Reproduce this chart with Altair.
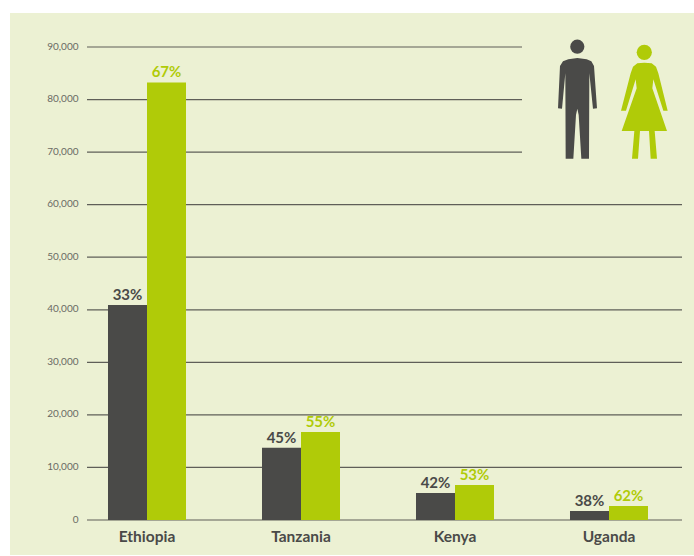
import altair as alt
import pandas as pd

# Population figures by country and sex
countries = ["Ethiopia", "Tanzania", "Kenya", "Uganda"]
men_values = [40900, 13750, 5130, 1710]
women_values = [83250, 16730, 6650, 2660]
men_pct = ["33%", "45%", "42%", "38%"]
women_pct = ["67%", "55%", "53%", "62%"]
tick_values = [0, 10000, 20000, 30000, 40000, 50000, 60000, 70000, 80000, 90000]
short_grid_from = 70000

DARK = "#4a4a48"
GREEN = "#b0cb08"
PANEL = "#ecf1d3"
LEFT, TOP = 87, 47
W, H = 595, 473

rows = []
for i, c in enumerate(countries):
    rows.append({"country": c, "sex": "men", "value": men_values[i], "pct": men_pct[i]})
    rows.append({"country": c, "sex": "women", "value": women_values[i], "pct": women_pct[i]})
df = pd.DataFrame(rows)

y_scale = alt.Scale(domain=[0, 90000], range=[H, 0], nice=False)
x_scale = alt.Scale(domain=countries, range=[-17, 599], paddingInner=0, paddingOuter=0)
offset_scale = alt.Scale(domain=["men", "women"], paddingInner=0, paddingOuter=0.974)
color_scale = alt.Scale(domain=["men", "women"], range=[DARK, GREEN])


def outline(points, cx, cy, half):
    """Turn an icon's outline into a point-mark path normalised to [-1, 1]."""
    coords = [f"{(x - cx) / half:.4f},{(y - cy) / half:.4f}" for x, y in points]
    return "M" + "L".join(coords) + "Z"


man_points = [(205, 118), (232, 114), (260, 118), (274, 124), (282, 138), (291, 265), (279, 266),
              (268, 160), (267, 416), (244, 416), (236, 285), (232, 266), (228, 285), (220, 416),
              (197, 416), (196, 160), (186, 266), (174, 265), (180, 138), (189, 124)]
woman_points = [(412, 130), (433, 128), (455, 130), (468, 140), (475, 160), (503, 272), (490, 272),
                (460, 178), (457, 205), (501, 333), (464, 333), (471, 416), (452, 416), (447, 333),
                (420, 333), (414, 416), (396, 416), (403, 333), (365, 333), (410, 205), (407, 178),
                (378, 272), (363, 272), (392, 160), (399, 140)]

one = pd.DataFrame({"n": [0]})


def icon(points, cx, cy, color):
    px = 500 + cx / 3 - LEFT
    py = 20 + cy / 3 - TOP
    return alt.Chart(one).mark_point(
        shape=outline(points, cx, cy, 150), filled=True, fill=color, opacity=1, size=10000
    ).encode(x=alt.value(px), y=alt.value(py))


def head(cx, cy, r, color):
    return alt.Chart(one).mark_circle(color=color, opacity=1, size=3.1416 * r * r).encode(
        x=alt.value(cx - LEFT), y=alt.value(cy - TOP)
    )


panel = alt.Chart(one).mark_rect(color=PANEL).encode(
    x=alt.value(10 - LEFT), x2=alt.value(694 - LEFT), y=alt.value(13 - TOP), y2=alt.value(555 - TOP)
)

grid_df = pd.DataFrame({"tick": tick_values})
full_grid = alt.Chart(grid_df).transform_filter(f"datum.tick < {short_grid_from}").mark_rule(
    color="#5f5f58", strokeWidth=1.2
).encode(
    y=alt.Y("tick:Q", scale=y_scale, title=None,
            axis=alt.Axis(values=tick_values, format=",d", grid=False, domain=False, ticks=False, zindex=1,
                          labelFont="Lato", labelFontSize=10, labelColor="#6a6a64", labelPadding=9,
                          labelOffset=-1)),
    x=alt.value(0), x2=alt.value(W),
)
short_grid = alt.Chart(grid_df).transform_filter(f"datum.tick >= {short_grid_from}").mark_rule(
    color="#5f5f58", strokeWidth=1.2
).encode(
    y=alt.Y("tick:Q", scale=y_scale, title=None),
    x=alt.value(0), x2=alt.value(522 - LEFT),
)

x_enc = alt.X("country:N", scale=x_scale, sort=countries, title=None,
              axis=alt.Axis(domain=False, ticks=False, labelAngle=0, labelFont="Lato", labelFontWeight="bold", zindex=1,
                            labelFontSize=15.5, labelColor=DARK, labelPadding=9))
offset_enc = alt.XOffset("sex:N", scale=offset_scale, sort=["men", "women"])

bars = alt.Chart(df).mark_bar(width=39).encode(
    x=x_enc, xOffset=offset_enc,
    y=alt.Y("value:Q", scale=y_scale, title=None),
    color=alt.Color("sex:N", scale=color_scale, legend=None),
)
labels = alt.Chart(df).mark_text(
    font="Lato", fontWeight="bold", fontSize=15, baseline="bottom", dy=-2
).encode(
    x=x_enc, xOffset=offset_enc,
    y=alt.Y("value:Q", scale=y_scale, title=None),
    text="pct:N",
    color=alt.Color("sex:N", scale=color_scale, legend=None),
)

chart = alt.layer(
    panel, full_grid, short_grid, bars, labels,
    icon(man_points, 232, 265, DARK), head(577.3, 46.7, 8, DARK),
    icon(woman_points, 433, 273, GREEN), head(644.3, 52.3, 8.6, GREEN),
).resolve_scale(x="shared", y="shared").properties(
    width=W, height=H, background="white",
    padding={"left": LEFT, "top": TOP, "right": 694 - LEFT - W, "bottom": 556 - TOP - H},
    autosize=alt.AutoSizeParams(type="none"),
).configure_view(stroke=None)

chart.save("out.html", embed_options={"renderer": "svg", "actions": False})
